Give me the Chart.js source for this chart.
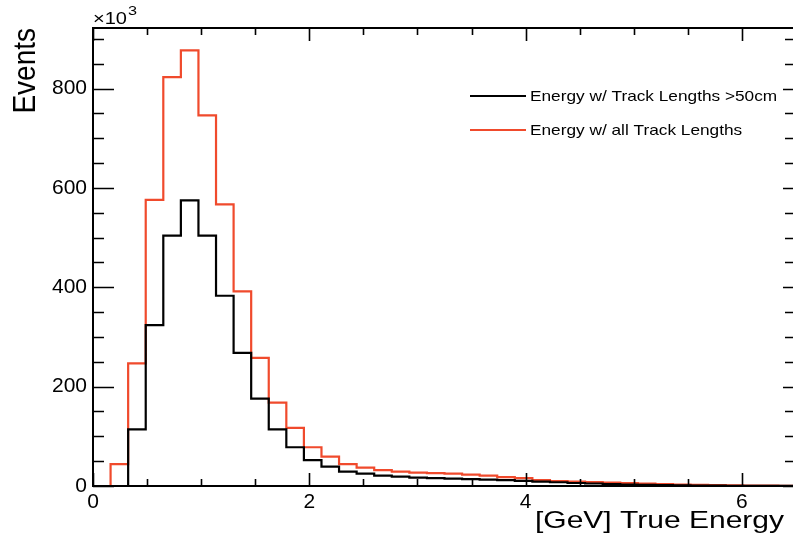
<!DOCTYPE html>
<html>
<head>
<meta charset="utf-8">
<title>True Energy</title>
<script src="https://cdn.jsdelivr.net/npm/chart.js@4/dist/chart.umd.min.js"></script>
<style>
  html, body { margin: 0; padding: 0; overflow: hidden; background: #fff; width: 793px; height: 546px; }
  canvas { display: block; }
</style>
</head>
<body>
<canvas id="c" width="800" height="546" style="width:800px;height:546px"></canvas>
<script>
// Histogram binning: 40 equal bins on [0, 6.5] GeV
const X_MIN = 0;
const X_MAX = 6.5;
const N_BINS = 40;
const Y_MAX = 922;           // events, in units of 10^3

// Tick label spacing
const X_TICK_STEP = 2;
const X_MINOR_STEP = 0.5;
const Y_TICK_STEP = 200;
const Y_MINOR_STEP = 50;

const seriesLabels = ['Energy w/ Track Lengths >50cm', 'Energy w/ all Track Lengths'];

// Bin contents (x10^3 events), one entry per bin, low to high energy
const countsLong = [
  0, 0, 114, 324, 504, 575, 504, 383, 268, 176,
  114, 78, 52, 39, 29, 25, 21, 19, 17, 16,
  15, 14, 13, 12, 10.5, 9, 7.5, 6, 5, 4,
  3, 2.5, 2, 1.5, 1, 1, 0.5, 0.5, 0.3, 0.2
];
const countsAll = [
  0, 44, 247, 576, 823, 877, 746, 567, 392, 258,
  168, 117, 78, 59, 44, 37, 32, 29, 27, 26,
  25, 23, 21, 18, 16, 12, 10, 9, 8, 7,
  6, 5, 4, 3, 2.5, 2, 1.5, 1, 1, 0.5
];

const COLOR_LONG = '#000000';
const COLOR_ALL = '#f04a2c';

// Step outline: a point at each bin's low edge plus the closing upper edge
function histPoints(counts) {
  const w = (X_MAX - X_MIN) / N_BINS;
  const pts = counts.map((v, i) => ({ x: X_MIN + i * w, y: v }));
  pts.push({ x: X_MAX, y: counts[counts.length - 1] });
  return pts;
}

const FONT = '"Liberation Sans", Arial, Helvetica, sans-serif';

function stretchedText(ctx, text, x, y, size, align, baseline, sx) {
  ctx.save();
  ctx.font = size + 'px ' + FONT;
  ctx.textAlign = 'left';
  ctx.textBaseline = baseline;
  const w = ctx.measureText(text).width * sx;
  let x0 = x;
  if (align === 'right') x0 = x - w;
  else if (align === 'center') x0 = x - w / 2;
  ctx.translate(x0, y);
  ctx.scale(sx, 1);
  ctx.fillText(text, 0, 0);
  ctx.restore();
  return w;
}

// Frame, inward ticks on all four sides, axis titles and the legend box
const framePlugin = {
  id: 'frame',
  afterDatasetsDraw(chart) {
    const ctx = chart.ctx;
    const { left, right, top, bottom } = chart.chartArea;
    const xs = chart.scales.x, ys = chart.scales.y;
    ctx.save();
    ctx.strokeStyle = '#000';
    ctx.fillStyle = '#000';
    ctx.lineWidth = 2;
    ctx.strokeRect(left, top, right - left, bottom - top);

    ctx.lineWidth = 1.6;
    ctx.beginPath();
    for (let v = 0; v <= Y_MAX + 1e-9; v += Y_MINOR_STEP) {
      const py = Math.round(ys.getPixelForValue(v)) + 0.5;
      const major = Math.abs(v % Y_TICK_STEP) < 1e-9;
      ctx.moveTo(left, py); ctx.lineTo(left + (major ? 21 : 11), py);
      ctx.moveTo(right, py); ctx.lineTo(right - (major ? 13 : 11), py);
    }
    for (let v = X_MIN; v <= X_MAX + 1e-9; v += X_MINOR_STEP) {
      const px = Math.round(xs.getPixelForValue(v)) + 0.5;
      const major = Math.abs(v % X_TICK_STEP) < 1e-9;
      ctx.moveTo(px, bottom); ctx.lineTo(px, bottom - (major ? 13 : 7));
      ctx.moveTo(px, top); ctx.lineTo(px, top + (major ? 13 : 7));
    }
    ctx.stroke();

    // Axis titles
    stretchedText(ctx, '[GeV] True Energy', 784, 528, 24, 'right', 'alphabetic', 1.25);

    ctx.save();
    ctx.translate(35, 28);
    ctx.rotate(-Math.PI / 2);
    ctx.scale(1, 1.12);
    ctx.font = '28px ' + FONT;
    ctx.textAlign = 'right';
    ctx.textBaseline = 'alphabetic';
    ctx.fillText('Events', 0, 0);
    ctx.restore();

    // Exponent of the y axis
    const w1 = stretchedText(ctx, '\u00d710', 93, 24, 16, 'left', 'alphabetic', 1.25);
    stretchedText(ctx, '3', 93 + w1 + 1, 15, 13, 'left', 'alphabetic', 1.25);

    // Legend
    const rows = [96, 130];
    chart.data.datasets.forEach((ds, i) => {
      ctx.strokeStyle = ds.borderColor;
      ctx.lineWidth = 2;
      ctx.beginPath();
      ctx.moveTo(470, rows[i]); ctx.lineTo(526, rows[i]);
      ctx.stroke();
      ctx.fillStyle = '#000';
      stretchedText(ctx, ds.label, 530, rows[i] + 1, 15, 'left', 'middle', 1.15);
    });
    ctx.restore();
  }
};

new Chart(document.getElementById('c'), {
  type: 'line',
  data: {
    datasets: [
      {
        label: seriesLabels[0],
        data: histPoints(countsLong),
        borderColor: COLOR_LONG,
        borderWidth: 2.2,
        stepped: 'before',
        pointRadius: 0,
        fill: false,
        order: 1
      },
      {
        label: seriesLabels[1],
        data: histPoints(countsAll),
        borderColor: COLOR_ALL,
        borderWidth: 2.2,
        stepped: 'before',
        pointRadius: 0,
        fill: false,
        order: 2
      }
    ]
  },
  options: {
    responsive: false,
    animation: false,
    devicePixelRatio: 1,
    layout: { padding: { left: 0, right: 4, top: 28, bottom: 0 } },
    plugins: {
      legend: { display: false },
      tooltip: { enabled: false }
    },
    scales: {
      x: {
        type: 'linear',
        min: X_MIN,
        max: X_MAX,
        grid: { display: false, drawTicks: false },
        border: { display: false },
        ticks: {
          stepSize: X_TICK_STEP,
          includeBounds: false,
          maxRotation: 0,
          padding: 4,
          color: '#000',
          font: { family: FONT, size: 21 }
        },
        afterFit(s) { s.height = 60; }
      },
      y: {
        type: 'linear',
        min: 0,
        max: Y_MAX,
        grid: { display: false, drawTicks: false },
        border: { display: false },
        ticks: {
          stepSize: Y_TICK_STEP,
          includeBounds: false,
          padding: 6,
          color: '#000',
          font: { family: FONT, size: 21 }
        },
        afterFit(s) { s.width = 93; }
      }
    }
  },
  plugins: [framePlugin]
});
</script>
</body>
</html>
